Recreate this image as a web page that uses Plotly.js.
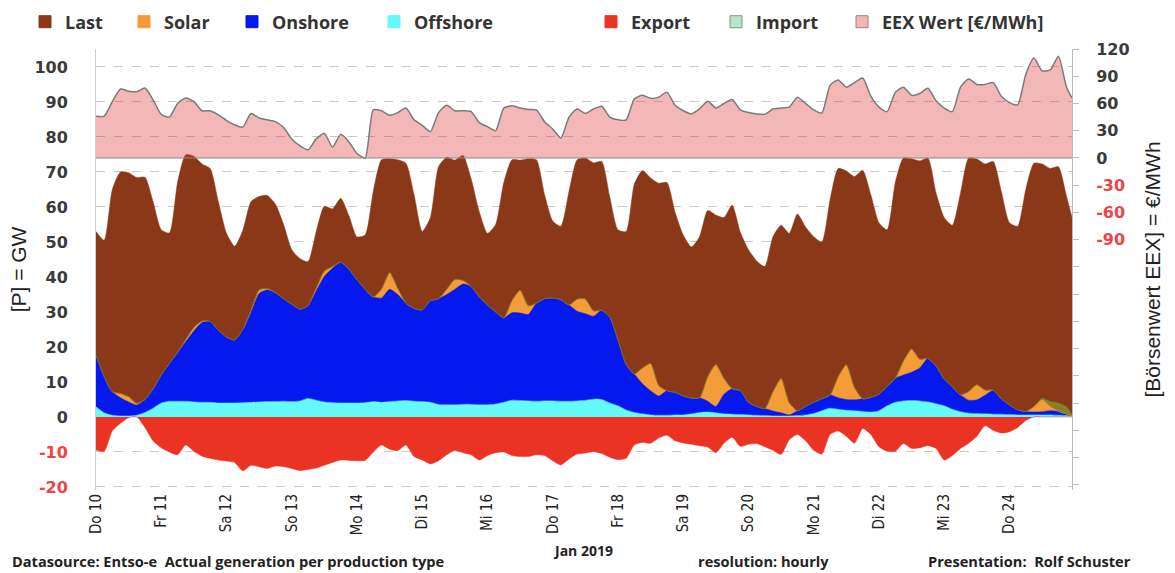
<!DOCTYPE html>
<html><head><meta charset="utf-8">
<script src="https://cdn.plot.ly/plotly-3.0.1.min.js"></script>
<style>html,body{margin:0;padding:0;background:#fff}#chart{width:1175px;height:573px}</style>
</head><body><div id="chart"></div>
<script>
// hours since 2019-01-10 00:00 (3-hour readings, last one at 23:00 on Jan 24)
const hours = [];
for (let h = 0; h <= 357; h += 3) hours.push(h);
hours.push(359);

const dayLabels = ['Do 10','Fr 11','Sa 12','So 13','Mo 14','Di 15','Mi 16','Do 17','Fr 18','Sa 19','So 20','Mo 21','Di 22','Mi 23','Do 24'];

// Last (load) GW
const load = [
  53, 50.5, 65, 70, 69.8, 68.4, 68.5, 61.5,
  53.5, 52.6, 67, 74.9, 74.5, 72.3, 71, 61.5,
  52.5, 48.8, 53.3, 61.5, 63, 63.3, 60.8, 55,
  47.8, 45.3, 44.4, 53, 60.2, 59.5, 62.5, 57.6,
  51.5, 52, 64.5, 73.5, 73.8, 73.5, 72.5, 63.5,
  53, 57, 71.5, 74.2, 73.4, 74.7, 68, 58.6,
  52.5, 55, 67, 73.5, 73.4, 73.8, 73.5, 63.5,
  56, 54.5, 64.5, 73.5, 74, 72.6, 73, 62.8,
  53.5, 53, 66.5, 70.4, 68.3, 66.8, 67, 58.5,
  52, 48.6, 51.5, 59, 57.7, 57, 60.5, 52.8,
  47.8, 44.6, 43, 51.5, 54.8, 52.5, 58, 54.3,
  51.5, 50, 62, 71, 70.3, 68.7, 70.5, 63.5,
  55.5, 53.5, 67, 74, 73.8, 73.2, 74, 64,
  57, 54.8, 64, 74, 73.7, 72.3, 73, 64.5,
  55.5, 54.5, 65, 72.5, 72.3, 71, 71.5, 63,
  57
];

// Offshore wind GW
const offshore = [
  2.9, 1.2, 0.5, 0.3, 0.3, 0.5, 1.3, 2.5,
  4, 4.5, 4.5, 4.5, 4.3, 4.2, 4.2, 4,
  4, 4, 4.1, 4.2, 4.3, 4.4, 4.4, 4.5,
  4.4, 4.6, 5.3, 4.8, 4.3, 4.1, 4, 4,
  4, 4.1, 4.4, 4.2, 4.4, 4.6, 4.7, 4.5,
  4.4, 4.2, 3.6, 3.5, 3.5, 3.6, 3.6, 3.5,
  3.5, 3.7, 4.2, 4.8, 4.7, 4.6, 4.5, 4.6,
  4.6, 4.5, 4.5, 4.6, 4.8, 5.1, 5, 4,
  3.2, 2, 1.3, 0.9, 0.6, 0.5, 0.5, 0.6,
  0.6, 0.9, 1.3, 1.4, 1.2, 0.9, 0.8, 0.7,
  0.6, 0.5, 0.4, 0.3, 0.3, 0.3, 0.4, 0.6,
  1, 1.8, 2.5, 2.2, 1.9, 1.8, 1.6, 1.4,
  1.8, 3.2, 4.2, 4.6, 4.7, 4.6, 4.3, 3.8,
  3.2, 2.2, 1.5, 1.1, 1, 0.9, 0.8, 0.8,
  0.7, 0.6, 0.6, 0.6, 0.6, 0.6, 0.5, 0.4,
  0.3
];

// Onshore wind GW
const onshore = [
  14.8, 10.3, 6.7, 5.2, 4, 2.9, 3.7, 5.5,
  8, 10.8, 13.9, 17, 20.3, 22.8, 23.1, 20.8,
  18.8, 18, 20.9, 25.6, 31, 31.9, 31.1, 29.3,
  27.8, 26.2, 26.5, 31.2, 35.9, 38.4, 40.2, 38.2,
  35.2, 32.4, 29.9, 29.8, 32.1, 30.4, 27.8, 26.5,
  26.2, 29, 30.2, 31.5, 33, 34.4, 33.7, 30.8,
  28.5, 26.3, 24.1, 25, 25, 24.7, 28, 29.2,
  29.4, 29, 27.5, 25.6, 24.7, 23.7, 25.5, 24.5,
  18.8, 13, 11, 8.6, 6.9, 5.5, 7, 6.4,
  5.4, 4.5, 4.2, 3.1, 1.8, 5.6, 7.3, 6.8,
  3.6, 2.5, 2, 1.4, 0.9, 0.3, 1.4, 2.4,
  3.2, 3.4, 3.8, 3.3, 3.1, 3.1, 3.6, 4.2,
  4.7, 5.6, 6.8, 7.4, 8.1, 9.4, 12.4, 10.7,
  7.6, 6.4, 4.8, 3.7, 3.9, 5.3, 6.8, 4.4,
  2.7, 1.4, 1, 0.8, 0.9, 1.2, 1.1, 0.4,
  0
];

// Solar GW
const solar = [
  0, 0, 0, 1.2, 1.5, 0.5, 0, 0,
  0, 0, 0, 0.6, 1, 0.4, 0, 0,
  0, 0, 0, 0.6, 1, 0.4, 0, 0,
  0, 0, 0, 0.8, 1.5, 0.5, 0, 0,
  0, 0, 0, 2.5, 4.8, 1.8, 0, 0,
  0, 0, 0, 1.5, 2.8, 1, 0, 0,
  0, 0, 0, 3.5, 6.5, 2.5, 0, 0,
  0, 0, 0, 3.5, 4.2, 1.5, 0, 0,
  0, 0, 0, 4.5, 7.8, 3, 0, 0,
  0, 0, 0, 7, 12, 4.5, 0, 0,
  0, 0, 0, 5.5, 9.8, 3.5, 0, 0,
  0, 0, 0, 6, 9.9, 3.5, 0, 0,
  0, 0, 0, 4, 6.6, 2.5, 0, 0,
  0, 0, 0, 2.5, 4.3, 1.5, 0, 0,
  0, 0, 0, 1.6, 3.4, 1.2, 0, 0,
  0
];

// Import GW
const importGW = [
  0, 0, 0, 0, 0, 0, 0, 0,
  0, 0, 0, 0, 0, 0, 0, 0,
  0, 0, 0, 0, 0, 0, 0, 0,
  0, 0, 0, 0, 0, 0, 0, 0,
  0, 0, 0, 0, 0, 0, 0, 0,
  0, 0, 0, 0, 0, 0, 0, 0,
  0, 0, 0, 0, 0, 0, 0, 0,
  0, 0, 0, 0, 0, 0, 0, 0,
  0, 0, 0, 0, 0, 0, 0, 0,
  0, 0, 0, 0, 0, 0, 0, 0,
  0, 0, 0, 0, 0, 0, 0, 0,
  0, 0, 0, 0, 0, 0, 0, 0,
  0, 0, 0, 0, 0, 0, 0, 0,
  0, 0, 0, 0, 0, 0, 0, 0,
  0, 0, 0, 0, 0.5, 1.5, 2.5, 2.2,
  0.5
];

// Export GW (negative)
const exportGW = [
  -9.4, -9.8, -4, -1.8, -0.2, 0, -3, -6.8,
  -8.8, -10, -10.8, -8, -9.8, -11.2, -11.8, -12.3,
  -12.6, -13, -15.4, -13.8, -14.2, -14.7, -14, -14.2,
  -14.7, -15.3, -15, -14.6, -13.8, -13, -12.3, -12.4,
  -12.5, -12.4, -10, -8, -9.2, -9.6, -8, -11.3,
  -12.3, -13.4, -12.5, -10.8, -9.6, -10.2, -10.8, -12.3,
  -11, -10.2, -10, -11, -11.3, -11.3, -10.8, -11,
  -12.5, -13.7, -12, -10.6, -10.3, -9.9, -10.4, -11.5,
  -12.2, -11.8, -8, -7.3, -7.5, -6, -5.2, -6.8,
  -7.4, -7.8, -8.2, -8.6, -10.2, -7.5, -5.8, -8.4,
  -7.8, -7.6, -8.5, -9.5, -10.7, -6.5, -5, -6.8,
  -9.5, -10.6, -5, -4, -5.5, -7.5, -3.3, -5,
  -8.5, -9.8, -9.8, -7.6, -9, -8.8, -8.2, -9,
  -12.3, -11, -9, -7.5, -5.5, -2.5, -3.8, -4.6,
  -4.2, -3, -1, 0, 0, 0, 0, 0,
  0
];

// EEX Wert EUR/MWh
const price = [
  46, 46, 62, 76, 73.5, 73, 77, 64,
  48, 45, 60, 66, 62, 52, 52, 47.5,
  41.5, 36.5, 34, 49, 44, 42, 40, 33.5,
  21, 13.5, 9, 21, 27, 12, 26, 18,
  5, 0, 53, 52, 47, 50, 55, 42,
  36, 29, 50, 58, 52, 52, 51, 39,
  34.5, 30, 55, 57.5, 55, 53.5, 53, 40,
  32, 22, 45, 54, 49, 54, 57, 45,
  42, 42, 65, 69, 65.7, 67, 72.5, 58,
  52, 48.5, 54, 62.5, 55, 60, 64.5, 53,
  50, 48.5, 48, 54, 55, 56, 67, 60,
  53, 49.5, 80, 86, 78, 83, 88, 68,
  56, 51, 72, 78, 69, 71, 76.8, 63,
  55, 51, 78, 87, 81, 81, 83, 68,
  61, 58.5, 92, 110, 96, 97, 112, 78,
  66
];

const T0 = Date.UTC(2019, 0, 10);
function toDate(h) {
  const d = new Date(T0 + h * 3600000);
  const p = n => String(n).padStart(2, '0');
  return d.getUTCFullYear() + '-' + p(d.getUTCMonth() + 1) + '-' + p(d.getUTCDate()) + ' ' + p(d.getUTCHours()) + ':00';
}
const xs = hours.map(toDate);

const C = {
  last: '#8a3818', solar: '#f39c38', onshore: '#0519ee', offshore: '#66f9fa',
  export: '#ea3323', import: '#b8e6c8', eex: '#f4b5b5'
};
const RED = '#ee4444';

const shape = {shape: 'spline', smoothing: 0.6};
const traces = [
  {x: xs, y: load, type: 'scatter', mode: 'lines', fill: 'tozeroy', fillcolor: C.last,
   line: Object.assign({color: C.last, width: 0.5}, shape), showlegend: false, name: 'Last'},
  {x: xs, y: offshore, type: 'scatter', mode: 'lines', stackgroup: 'gen', fillcolor: C.offshore,
   line: Object.assign({color: C.offshore, width: 0.5}, shape), showlegend: false, name: 'Offshore'},
  {x: xs, y: onshore, type: 'scatter', mode: 'lines', stackgroup: 'gen', fillcolor: C.onshore,
   line: Object.assign({color: C.onshore, width: 0.5}, shape), showlegend: false, name: 'Onshore'},
  {x: xs, y: solar, type: 'scatter', mode: 'lines', stackgroup: 'gen', fillcolor: C.solar,
   line: Object.assign({color: C.solar, width: 0.5}, shape), showlegend: false, name: 'Solar'},
  {x: xs, y: importGW, type: 'scatter', mode: 'lines', stackgroup: 'gen', fillcolor: 'rgba(140,140,40,0.85)',
   line: Object.assign({color: '#6a6a20', width: 0.8}, shape), showlegend: false, name: 'Import'},
  {x: xs, y: exportGW, type: 'scatter', mode: 'lines', fill: 'tozeroy', fillcolor: C.export,
   line: Object.assign({color: C.export, width: 0.5}, shape), showlegend: false, name: 'Export'},
  {x: xs, y: price, yaxis: 'y2', type: 'scatter', mode: 'lines', fill: 'tozeroy',
   fillcolor: 'rgba(220,50,50,0.35)', line: Object.assign({color: '#7a7a7a', width: 1.5}, shape),
   showlegend: false, name: 'EEX Wert [€/MWh]'}
];

// legend entries (one legend box each, placed like the reference)
const legendItems = [
  {name: 'Last', color: C.last, line: C.last, x: 25},
  {name: 'Solar', color: C.solar, line: C.solar, x: 124},
  {name: 'Onshore', color: C.onshore, line: C.onshore, x: 232},
  {name: 'Offshore', color: C.offshore, line: C.offshore, x: 374},
  {name: 'Export', color: C.export, line: C.export, x: 591},
  {name: 'Import', color: C.import, line: '#7a9a85', x: 716},
  {name: 'EEX Wert [€/MWh]', color: C.eex, line: '#a08080', x: 842}
];
const layoutLegends = {};
legendItems.forEach((it, i) => {
  const key = i === 0 ? 'legend' : 'legend' + (i + 1);
  traces.push({x: [null], y: [null], type: 'scatter', mode: 'markers', name: it.name,
    legend: key, showlegend: true,
    marker: {symbol: 'square', size: 12, color: it.color, line: {color: it.line, width: 1}}});
  layoutLegends[key] = {
    x: it.x / 1175, xref: 'container', xanchor: 'left',
    y: 1 - 22 / 573, yref: 'container', yanchor: 'middle',
    orientation: 'h', bgcolor: 'rgba(0,0,0,0)', borderwidth: 0,
    font: {family: 'Open Sans, sans-serif', size: 18, weight: 700, color: '#333'}
  };
});

const leftVals = [-20, -10, 0, 10, 20, 30, 40, 50, 60, 70, 80, 90, 100];
const leftText = leftVals.map(v => v < 0 ? '<span style="color:' + RED + '">' + v + '</span>' : String(v));
const rightVals = [];
for (let v = -360; v <= 120; v += 30) rightVals.push(v);
const rightText = rightVals.map(v => v < -90 ? '' : (v < 0 ? '<span style="color:' + RED + '">' + v + '</span>' : String(v)));

const tickFont = {family: 'DejaVu Sans, sans-serif', size: 16, weight: 700, color: '#3a3a3a'};
const footFont = {family: 'Open Sans, sans-serif', size: 14.6, weight: 700, color: '#222'};
const footY = (490 - 573) / 441;

const layout = Object.assign({
  width: 1175, height: 573,
  margin: {l: 96, r: 103, t: 49, b: 83},
  paper_bgcolor: '#fff', plot_bgcolor: '#fff',
  showlegend: true,
  xaxis: {
    type: 'date', range: [toDate(0), toDate(359)],
    tickvals: dayLabels.map((d, i) => toDate(24 * i)), ticktext: dayLabels,
    tickangle: -90, ticks: '', showgrid: false, zeroline: false, showline: false,
    tickfont: {family: 'Liberation Sans Narrow, DejaVu Sans Condensed, sans-serif', size: 15, color: '#222'},
    title: {text: 'Jan 2019', font: {family: 'Open Sans, sans-serif', size: 14, weight: 700, color: '#222'}, standoff: 11}
  },
  yaxis: {
    range: [-20.86, 105.14], tickvals: leftVals, ticktext: leftText,
    showgrid: true, gridcolor: '#c8c8c8', griddash: 'dash', gridwidth: 1,
    zeroline: true, zerolinecolor: '#9a9a9a', zerolinewidth: 1,
    showline: true, linecolor: '#d0d0d0', ticks: '', ticklabelstandoff: 24,
    tickfont: tickFont,
    title: {text: '[P] = GW', font: {family: 'Liberation Sans, Arial, sans-serif', size: 21, color: '#222'}, standoff: 2}
  },
  yaxis2: {
    overlaying: 'y', side: 'right', range: [-365.6, 120],
    tickvals: rightVals, ticktext: rightText, showgrid: false, zeroline: false,
    showline: true, linecolor: '#bcbcbc', ticks: 'outside', ticklen: 6, tickcolor: '#bcbcbc',
    ticklabelstandoff: 14, tickfont: tickFont,
    title: {text: '[Börsenwert EEX] = €/MWh', font: {family: 'Liberation Sans, Arial, sans-serif', size: 21, color: '#222'}, standoff: 16}
  },
  shapes: [
    {type: 'line', xref: 'paper', x0: 0, x1: 1, yref: 'y2', y0: 0, y1: 0, line: {color: '#8a8a8a', width: 1.2}, layer: 'above'}
  ],
  annotations: [
    {text: 'Datasource: Entso-e\u00a0\u00a0Actual generation per production type', xref: 'paper', yref: 'paper',
     x: (10 - 96) / 976, y: footY, xanchor: 'left', yanchor: 'bottom', showarrow: false, font: footFont},
    {text: 'resolution: hourly', xref: 'paper', yref: 'paper',
     x: (696 - 96) / 976, y: footY, xanchor: 'left', yanchor: 'bottom', showarrow: false, font: footFont},
    {text: 'Presentation:\u00a0\u00a0Rolf Schuster', xref: 'paper', yref: 'paper',
     x: (926 - 96) / 976, y: footY, xanchor: 'left', yanchor: 'bottom', showarrow: false, font: footFont}
  ]
}, layoutLegends);

Plotly.newPlot('chart', traces, layout, {displayModeBar: false, staticPlot: true});
</script></body></html>
